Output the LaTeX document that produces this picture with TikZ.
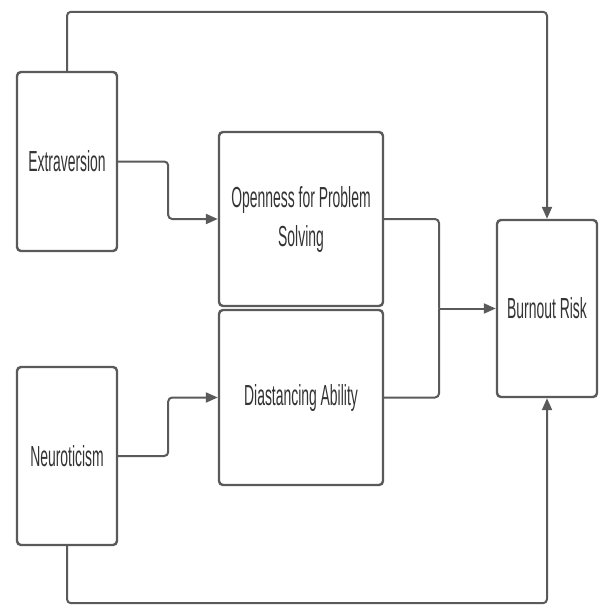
\documentclass[tikz,border=0pt]{standalone}
\usepackage{fontspec}
\newfontfamily\boxfont{Liberation Sans}[FakeStretch=0.48]
\usetikzlibrary{arrows.meta}
\definecolor{lineclr}{HTML}{5A5A5A}
\definecolor{textclr}{HTML}{333333}
\begin{document}
\begin{tikzpicture}[x=1pt,y=-1pt,
    box/.style={draw=lineclr,line width=2.4pt,rounded corners=4pt,fill=white,
      align=center,text=textclr,inner sep=0pt,
      font=\boxfont\fontsize{29}{39}\selectfont},
    link/.style={draw=lineclr,line width=2pt,rounded corners=4pt,
      -{Triangle[length=12pt,width=10pt]}}]
      \useasboundingbox (0,0) rectangle (598,605);
      \node[box,minimum width=100pt,minimum height=179pt] (extra) at (67,161.5) {Extraversion};
      \node[box,minimum width=100pt,minimum height=178pt] (neuro) at (67,456) {Neuroticism};
      \node[box,minimum width=164pt,minimum height=174pt] (open) at (301,219) {Openness for Problem\\Solving};
      \node[box,minimum width=164pt,minimum height=175pt] (dist) at (301,397.5) {Diastancing Ability};
      \node[box,minimum width=100pt,minimum height=177pt] (burn) at (547,308.5) {Burnout Risk};
      \coordinate (join) at (439,308.5);
      \begin{scope}[link]
        \draw (extra.east) -- ++(50,0) |- (open.west);
        \draw (neuro.east) -- ++(50,0) |- (dist.west);
        \draw[-] (open.east) -| (join);
        \draw[-] (dist.east) -| (join);
        \draw (join) -- (burn.west);
        \draw (extra.north) -- ++(0,-59) -| (burn.north);
        \draw (neuro.south) -- ++(0,57) -| (burn.south);
      \end{scope}
    \end{tikzpicture}
\end{document}
